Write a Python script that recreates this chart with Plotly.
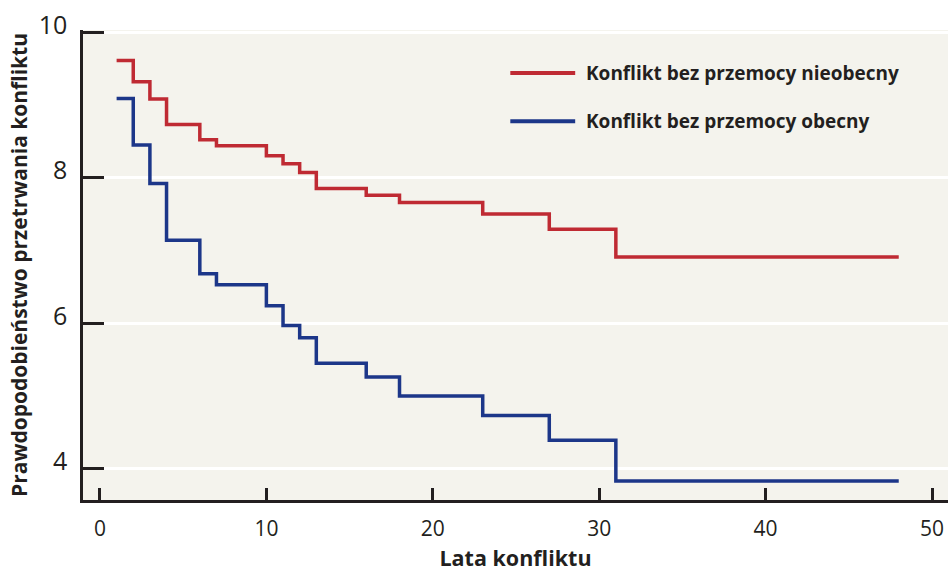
import plotly.graph_objects as go

# Data (years of conflict, probability of conflict continuation)
years = [1, 2, 3, 4, 6, 7, 10, 11, 12, 13, 16, 18, 23, 27, 31, 48]
prob_absent = [9.61, 9.32, 9.08, 8.73, 8.52, 8.44, 8.30, 8.19, 8.07, 7.85,
               7.76, 7.66, 7.50, 7.29, 6.91, 6.91]
prob_present = [9.09, 8.45, 7.92, 7.14, 6.68, 6.53, 6.24, 5.97, 5.80, 5.45,
                5.26, 5.00, 4.73, 4.39, 3.83, 3.83]
series_names = ["Konflikt bez przemocy nieobecny", "Konflikt bez przemocy obecny"]
x_ticks = [0, 10, 20, 30, 40, 50]
y_ticks = [4, 6, 8, 10]

RED = "#bf2a33"
BLUE = "#1c3689"
INK = "#231f20"
BG = "#f4f3ed"
TITLE_FONT = "Open Sans"
TICK_FONT = "Open Sans"

fig = go.Figure()
fig.add_trace(go.Scatter(x=years, y=prob_absent, mode="lines", line_shape="hv",
                         line=dict(color=RED, width=3.5), name=series_names[0],
                         showlegend=False))
fig.add_trace(go.Scatter(x=years, y=prob_present, mode="lines", line_shape="hv",
                         line=dict(color=BLUE, width=3.5), name=series_names[1],
                         showlegend=False))

# manual legend
legend_y = [0.9085, 0.806]
for name, col, ly in zip(series_names, [RED, BLUE], legend_y):
    fig.add_shape(type="line", xref="paper", yref="paper",
                  x0=0.494, x1=0.569, y0=ly, y1=ly,
                  line=dict(color=col, width=4))
    fig.add_annotation(xref="paper", yref="paper", x=0.579, y=ly,
                       xanchor="left", yanchor="middle", text=name,
                       showarrow=False,
                       font=dict(family=TITLE_FONT, size=19, color=INK, weight=700))

fig.update_layout(
    width=948, height=572,
    margin=dict(l=83, r=0, t=30, b=72),
    paper_bgcolor="white",
    plot_bgcolor=BG,
    showlegend=False,
    font=dict(family=TITLE_FONT, color=INK),
)
fig.update_xaxes(
    range=[-1.02, 50.96], tickvals=x_ticks, ticktext=[str(v) for v in x_ticks],
    showgrid=False, zeroline=False, automargin=False,
    showline=True, linecolor=INK, linewidth=2.5,
    ticks="inside", ticklen=12, tickwidth=2.5, tickcolor=INK,
    tickfont=dict(family=TICK_FONT, size=21, color=INK, weight=400),
    ticklabelstandoff=8,
    title=dict(text="Lata konfliktu", standoff=17,
               font=dict(family=TITLE_FONT, size=21.5, color=INK, weight=700)),
)
fig.update_yaxes(
    range=[3.57, 10.03], tickvals=y_ticks, ticktext=[str(v) for v in y_ticks],
    showgrid=True, gridcolor="white", gridwidth=3, zeroline=False, automargin=False,
    showline=True, linecolor=INK, linewidth=2.5,
    ticks="inside", ticklen=21, tickwidth=2.5, tickcolor=INK,
    tickfont=dict(family=TICK_FONT, size=25, color=INK, weight=400),
    ticklabelstandoff=8, ticklabelshift=-7,
    title=dict(text="Prawdopodobieństwo przetrwania konfliktu", standoff=6,
               font=dict(family=TITLE_FONT, size=21, color=INK, weight=700)),
)

fig.write_html("out.html", config={"displayModeBar": False},
               post_script="document.body.style.margin='0';")
